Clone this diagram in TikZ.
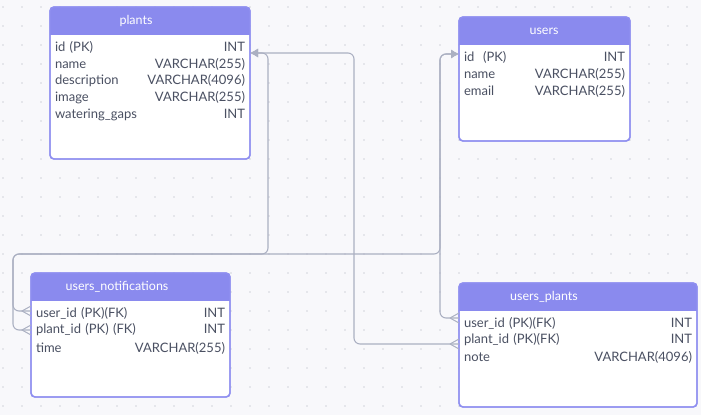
\documentclass[tikz,border=0pt]{standalone}
\usepackage{fontspec}
\setmainfont{Lato}
\usetikzlibrary{arrows.meta,positioning}

\definecolor{hdcol}{HTML}{8A8AEE}
\definecolor{bdcol}{HTML}{8F8FF0}
\definecolor{txcol}{HTML}{4A5062}
\definecolor{lncol}{HTML}{ABB0C2}
\definecolor{bgcol}{HTML}{F8F8FB}
\definecolor{dotcol}{HTML}{D2D4DC}

\tikzset{
  tbl/.style={draw=bdcol,line width=1.4pt,fill=white,rounded corners=4pt,anchor=north west,inner sep=0pt,outer sep=0pt},
  tblhead/.style={text=white,font=\fontsize{12.5}{15}\selectfont},
  tblrow/.style={text=txcol,font=\fontsize{13}{15}\selectfont,inner xsep=5pt,inner ysep=0pt,minimum height=17pt,outer sep=0pt},
  rel/.style={draw=lncol,line width=1.1pt,rounded corners=6pt},
  one/.style={-{Latex[length=8pt,width=9pt]}},
}

% table frame: name, x, y, width, height, title, title x
\newcommand\ertable[7]{%
  \node[tbl,minimum width=#4pt,minimum height=#5pt] (#1) at (#2,#3) {};
  \begin{scope}
    \clip[rounded corners=4pt] (#1.north west) rectangle (#1.south east);
    \fill[hdcol] (#1.north west) rectangle ([yshift=-28pt]#1.north east);
  \end{scope}
  \draw[draw=bdcol,line width=1.4pt,rounded corners=4pt] (#1.north west) rectangle (#1.south east);
  \node[tblhead] (#1-title) at (#7,#3+14) {#6};
}

% crow's foot on the left side of a box
\newcommand\crowfoot[1]{%
  \draw[draw=lncol,line width=1pt] (#1) ++(-9,0) -- ++(9,-5) ++(-9,5) -- ++(9,5);
}

\begin{document}
\begin{tikzpicture}[x=1pt,y=-1pt]
\fill[bgcol] (0,0) rectangle (701,415);
\useasboundingbox (0,0) rectangle (701,415);

% dotted grid
\foreach \i in {0,...,36}
  \foreach \j in {0,...,21}
    \fill[dotcol] (3+19*\i,7+19*\j) circle (0.9pt);

% tables
\ertable{plants}{50}{7}{200}{152}{plants}{136}
\node[tblrow,text width=190pt] (pl-id) at (150,47) {id (PK)\hfill INT};
\node[tblrow,text width=190pt] (pl-name) at (150,64) {name\hfill VARCHAR(255)};
\node[tblrow,text width=190pt] (pl-desc) at (150,81) {description\hfill VARCHAR(4096)};
\node[tblrow,text width=190pt] (pl-img) at (150,98) {image\hfill VARCHAR(255)};
\node[tblrow,text width=190pt] (pl-gaps) at (150,115) {watering\_gaps\hfill INT};

\ertable{users}{459}{17}{171}{124}{users}{544}
\node[tblrow,text width=161pt] (us-id) at (544.5,57) {id~~(PK)\hfill INT};
\node[tblrow,text width=161pt] (us-name) at (544.5,74) {name\hfill VARCHAR(255)};
\node[tblrow,text width=161pt] (us-mail) at (544.5,91) {email\hfill VARCHAR(255)};

\ertable{notif}{31}{273}{199}{124}{users\_notifications}{117}
\node[tblrow,text width=189pt] (un-uid) at (130.5,313) {user\_id (PK)(FK)\hfill INT};
\node[tblrow,text width=189pt] (un-pid) at (130.5,330) {plant\_id (PK) (FK)\hfill INT};
\node[tblrow,text width=189pt] (un-time) at (130.5,348) {time\hfill VARCHAR(255)};

\ertable{uplants}{459}{283}{238}{124}{users\_plants}{544}
\node[tblrow,text width=228pt] (up-uid) at (578,323) {user\_id (PK)(FK)\hfill INT};
\node[tblrow,text width=228pt] (up-pid) at (578,340) {plant\_id (PK)(FK)\hfill INT};
\node[tblrow,text width=228pt] (up-note) at (578,357) {note\hfill VARCHAR(4096)};

% relations
\coordinate (busW) at (13,254);
\coordinate (dropP) at (268,254);
\coordinate (dropU) at (440,254);

\draw[rel,one] (un-pid.west) -| (busW) -- (dropP) |- ([yshift=-6pt]pl-id.east);
\draw[rel,one] ([yshift=2pt]un-uid.west) -| (busW) -- (dropU) |- ([yshift=3pt]us-id.west);
\draw[rel,one] ([yshift=5pt]up-uid.west) -| (dropU) |- ([yshift=3pt]us-id.west);
\draw[rel,one] ([yshift=-4pt]up-pid.west) -- ++(-105,0) |- ([yshift=-6pt]pl-id.east);

\crowfoot{un-pid.west}
\crowfoot{[yshift=2pt]un-uid.west}
\crowfoot{[yshift=5pt]up-uid.west}
\crowfoot{[yshift=-4pt]up-pid.west}
\end{tikzpicture}
\end{document}
